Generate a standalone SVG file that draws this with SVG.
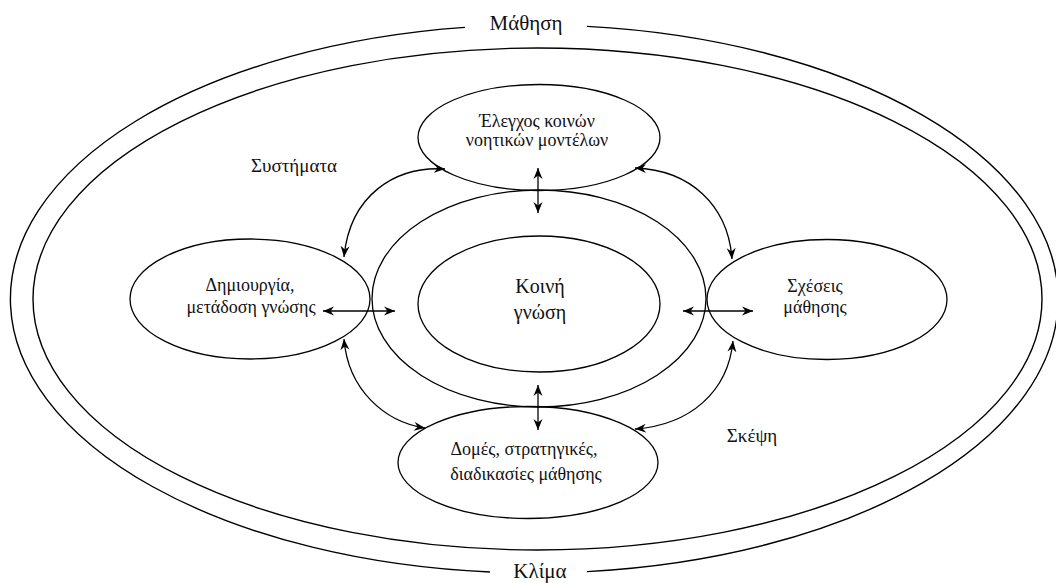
<svg xmlns="http://www.w3.org/2000/svg" width="1056" height="583" viewBox="0 0 1056 583">
  <defs>
    <style>
      .ring { fill: none; stroke: #000; stroke-width: 1.4; }
      .hub { fill: none; stroke: #000; stroke-width: 1.3; }
      .link { fill: none; stroke: #000; stroke-width: 1.3; marker-start: url(#head); marker-end: url(#head); }
      text { font-family: "Liberation Serif", "DejaVu Serif", serif; fill: #111; text-anchor: middle; }
      .lbl { font-size: 18px; }
      .big { font-size: 20px; }
      .ctx { font-size: 21px; }
      .side { font-size: 19px; }
    </style>
    <marker id="head" viewBox="0 0 12 10" refX="11" refY="5" markerWidth="12" markerHeight="10" markerUnits="userSpaceOnUse" orient="auto-start-reverse">
      <path d="M0,0.5 L11,5 L0,9.5 L3.5,5 Z" fill="#000"/>
    </marker>
  </defs>

  <!-- outer climate ring, broken at the top and bottom labels -->
  <g id="climate">
    <path class="ring" d="M465,27.4 A524,274 0 0 0 490,572"/>
    <path class="ring" d="M587,26.4 A524,274 0 0 1 587,571.6"/>
    <text class="ctx" x="526" y="30">Μάθηση</text>
    <text class="ctx" x="540" y="578">Κλίμα</text>
  </g>

  <!-- second ring -->
  <g id="systems-ring">
    <ellipse class="ring" cx="537.5" cy="299" rx="504.5" ry="251"/>
    <text class="side" x="294" y="172">Συστήματα</text>
    <text class="side" x="752" y="442">Σκέψη</text>
  </g>

  <!-- central ring -->
  <g id="core-ring">
    <ellipse class="hub" cx="539" cy="298.5" rx="167" ry="108.5"/>
  </g>

  <g id="shared-knowledge">
    <ellipse class="hub" cx="539" cy="304" rx="121" ry="68"/>
    <text class="big" x="540" y="293">Κοινή</text>
    <text class="big" x="540" y="319">γνώση</text>
  </g>

  <g id="mental-models">
    <ellipse class="hub" cx="539" cy="137.5" rx="121" ry="53"/>
    <text class="lbl" x="537" y="127">Έλεγχος κοινών</text>
    <text class="lbl" x="537" y="146">νοητικών μοντέλων</text>
  </g>

  <g id="knowledge-creation">
    <ellipse class="hub" cx="250" cy="299" rx="120" ry="60"/>
    <text class="lbl" x="250" y="291">Δημιουργία,</text>
    <text class="lbl" x="251" y="313">μετάδοση γνώσης</text>
  </g>

  <g id="learning-relations">
    <ellipse class="hub" cx="827" cy="299.5" rx="120" ry="60"/>
    <text class="lbl" x="815" y="292">Σχέσεις</text>
    <text class="lbl" x="815" y="313">μάθησης</text>
  </g>

  <g id="learning-structures">
    <ellipse class="hub" cx="528" cy="462.5" rx="130" ry="56"/>
    <text class="lbl" x="524" y="455">Δομές, στρατηγικές,</text>
    <text class="lbl" x="526" y="480">διαδικασίες μάθησης</text>
  </g>

  <!-- connectors -->
  <g id="connectors">
    <line class="link" x1="538" y1="168" x2="538" y2="213"/>
    <line class="link" x1="538" y1="385" x2="538" y2="430"/>
    <line class="link" x1="323" y1="311" x2="395" y2="311"/>
    <line class="link" x1="683" y1="311" x2="753" y2="311"/>
    <path class="link" d="M445,169 C395,166 350,195 344,257"/>
    <path class="link" d="M635,168 C690,170 728,205 732,259"/>
    <path class="link" d="M344,339 C348,390 385,422 425,428"/>
    <path class="link" d="M733,341 C728,392 690,425 635,429"/>
  </g>
</svg>
